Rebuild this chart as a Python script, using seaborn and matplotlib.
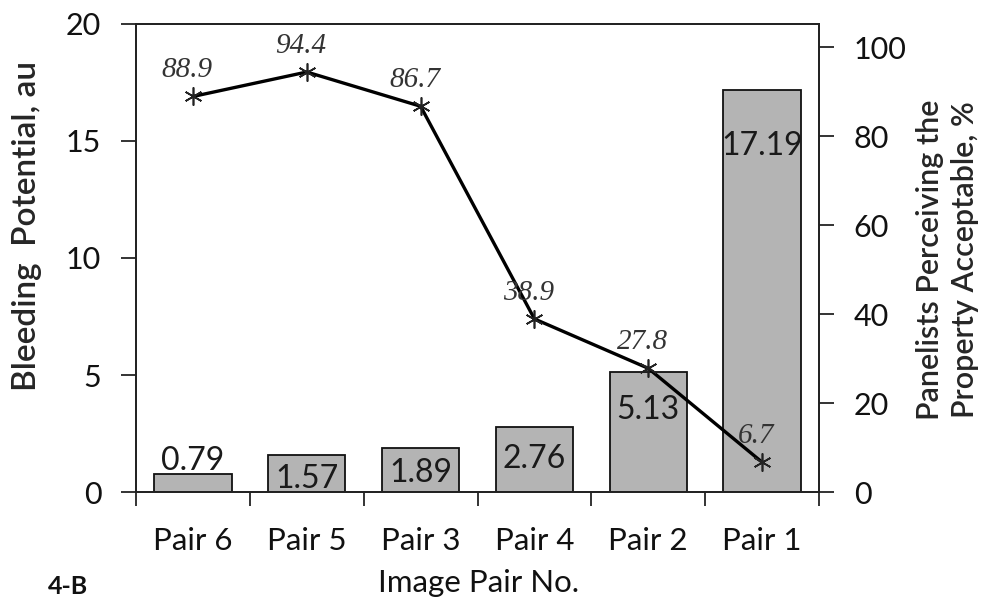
import numpy as np
import pandas as pd
import seaborn as sns
import matplotlib.pyplot as plt

sns.set_theme(style="white")
plt.rcParams['font.family'] = ['Lato', 'DejaVu Sans']

# data
pairs = ["Pair 6", "Pair 5", "Pair 3", "Pair 4", "Pair 2", "Pair 1"]
bleeding = [0.79, 1.57, 1.89, 2.76, 5.13, 17.19]
accept = [88.9, 94.4, 86.7, 38.9, 27.8, 6.7]

# where the value labels sit (left-axis units), as in the original
label_y = [1.32, 0.56, 0.81, 1.41, 3.5, 14.8]

df = pd.DataFrame({"pair": pairs, "bleed": bleeding, "acc": accept})

fig = plt.figure(figsize=(9.9, 5.99), dpi=100)
ax = fig.add_axes([0.1374, 0.1786, 0.6899, 0.7814])

sns.barplot(data=df, x="pair", y="bleed", ax=ax, color="#b4b4b4",
            saturation=1, width=0.68, edgecolor="#111111", linewidth=1.3)
ax.set_ylim(0, 20)
ax.set_xlim(-0.5, 5.5)
ax.set_yticks([0, 5, 10, 15, 20])
ax.set_xlabel("")
ax.set_ylabel("Bleeding  Potential, au", fontsize=24, fontweight=600)
ax.yaxis.set_label_coords(-0.138, 0.568)
ax.tick_params(axis="y", labelsize=22, length=11, width=1.2, direction="out",
               left=True, pad=14, color="#111111", labelcolor="#111111")
ax.tick_params(axis="x", labelsize=22.5, bottom=False, pad=19,
               labelcolor="#111111")
# x ticks at category boundaries
ax.set_xticks(np.arange(-0.5, 6, 1), minor=True)
ax.tick_params(axis="x", which="minor", bottom=True, length=10, width=1.2,
               direction="out", color="#111111")
for s in ax.spines.values():
    s.set_color("#222222")
    s.set_linewidth(1.3)

for i, v in enumerate(bleeding):
    ax.text(i, label_y[i], f"{v:.2f}", ha="center", va="center",
            fontsize=23, color="#1a1a1a")

ax2 = ax.twinx()
sns.lineplot(x=np.arange(len(pairs)), y=accept, ax=ax2, color="black",
             linewidth=2.4, marker=(6, 2, 0), markersize=13,
             markeredgecolor="#222222", markeredgewidth=1.2)
ax2.set_ylim(0, 105.2)
ax2.set_yticks([0, 20, 40, 60, 80, 100])
ax2.set_ylabel("Panelists Perceiving the\nProperty Acceptable, %",
               fontsize=22, fontweight=600, linespacing=1.3, rotation=90)
ax2.yaxis.set_label_coords(1.142, 0.496)
ax2.tick_params(axis="y", labelsize=22, length=11, width=1.2, direction="out",
                right=True, pad=14, color="#111111", labelcolor="#111111")
for s in ax2.spines.values():
    s.set_color("#222222")
    s.set_linewidth(1.3)

for i, v in enumerate(accept):
    ax2.text(i - 0.05, v + 3.0, f"{v:g}", ha="center", va="bottom",
             fontsize=21, style="italic", family="Liberation Serif",
             color="#333333")

fig.text(0.483, 0.012, "Image Pair No.", ha="center", va="baseline",
         fontsize=22.5, color="#111111")
fig.text(0.048, 0.008, "4-B", ha="left", va="baseline", fontsize=18,
         fontweight="bold", color="#111111")

fig.savefig("out.png", dpi=100)
